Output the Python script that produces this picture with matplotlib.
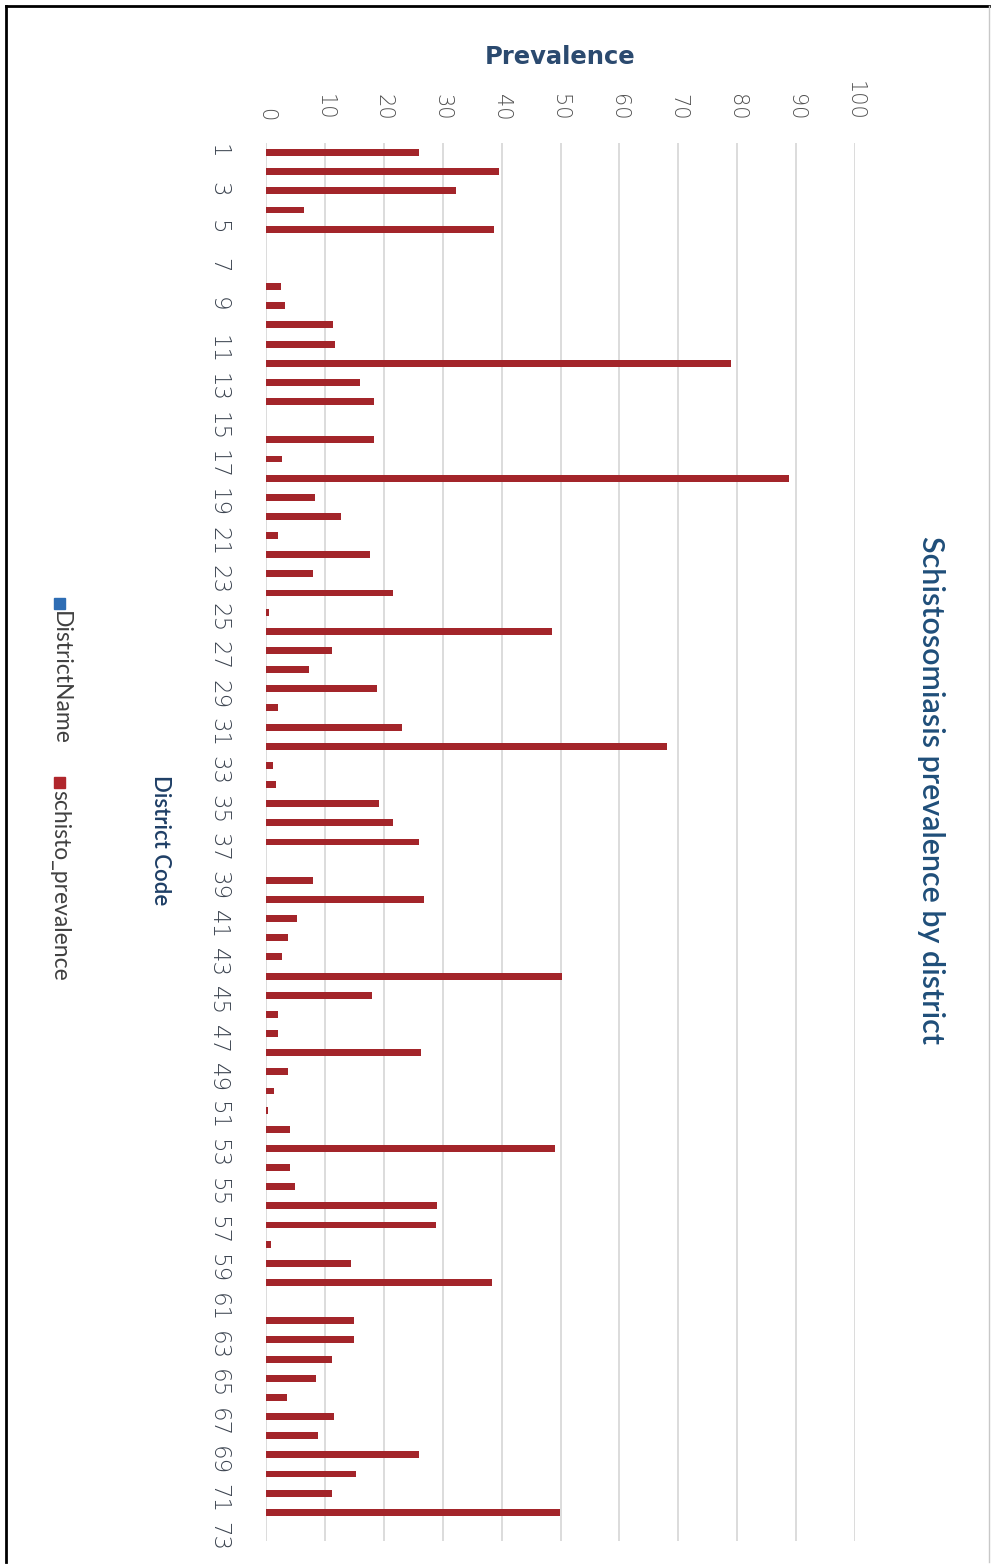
import matplotlib.pyplot as plt
import matplotlib.patches as mpatches
from matplotlib.lines import Line2D
import numpy as np

# district codes 1..73 and schisto prevalence (%) per district
district_codes = list(range(1, 74))
schisto_prevalence = [
    26.0, 39.5, 32.3, 6.5, 38.7, 0, 0, 2.5, 3.3, 11.3,
    11.7, 78.9, 16.0, 18.4, 0, 18.4, 2.8, 88.8, 8.4, 12.8,
    2.1, 17.6, 8.0, 21.5, 0.5, 48.6, 11.2, 7.3, 18.8, 2.1,
    23.1, 68.0, 1.2, 1.7, 19.2, 21.6, 26.0, 0, 8.0, 26.8,
    5.3, 3.7, 2.8, 50.2, 18.0, 2.1, 2.1, 26.3, 3.7, 1.3,
    0.4, 4.1, 49.0, 4.1, 4.9, 29.1, 28.8, 0.9, 14.4, 38.3,
    0, 14.9, 14.9, 11.2, 8.5, 3.6, 11.6, 8.9, 26.0, 15.2,
    11.2, 49.9, 0,
]
prevalence_ticks = list(range(0, 101, 10))
code_ticks = list(range(1, 74, 2))

title = "Schistosomiasis prevalence by district"
legend_names = ["DistrictName", "schisto_prevalence"]
legend_colors = ["#2E6DB4", "#B0262C"]

W, H = 991, 1564
plt.rcParams['font.family'] = ['Lato', 'DejaVu Sans']

fig = plt.figure(figsize=(W / 100, H / 100), dpi=100)
fig.patch.set_facecolor("white")

def fx(px):
    return px / W

def fy(py):
    return 1 - py / H

# chart is laid out sideways: bars run left to right, codes go down the page
ax = fig.add_axes([fx(266), fy(1541), fx(855) - fx(266), fy(143) - fy(1541)])
ax.barh(district_codes, schisto_prevalence, height=0.36, color="#A3252A",
        linewidth=0, zorder=3)
ax.set_xlim(0, 100)
ax.set_ylim(73.5, 0.5)
ax.xaxis.tick_top()
ax.set_xticks(prevalence_ticks)
ax.set_yticks(code_ticks)
ax.tick_params(axis="x", length=0, pad=16, labelsize=15, labelrotation=-90,
               labelcolor="#505050")
ax.tick_params(axis="y", length=0, pad=26, labelsize=16.5, labelrotation=-90,
               labelcolor="#3C4450")
for lab in ax.get_xticklabels() + ax.get_yticklabels():
    lab.set_family(['DejaVu Sans'])
    lab.set_fontweight('light')
ax.grid(axis="x", color="#D6D6D6", linewidth=1.2, zorder=0)
for sp in ax.spines.values():
    sp.set_visible(False)

fig.text(fx(560), fy(57), "Prevalence", ha="center", va="center",
         fontsize=17.5, fontweight="bold", color="#2B4A6F",
         family=['DejaVu Sans'])
fig.text(fx(931), fy(790), title, rotation=-90, ha="center", va="center",
         fontsize=22, fontweight="semibold", color="#1F4E79")
fig.text(fx(161), fy(840), "District Code", rotation=-90, ha="center",
         va="center", fontsize=16, fontweight="semibold", color="#1F3F66")

# legend, drawn by hand so it can read downwards like the rest
leg_starts = [598, 777]
for name, col, y0 in zip(legend_names, legend_colors, leg_starts):
    fig.patches.append(mpatches.Rectangle((fx(54), fy(y0 + 11)), fx(11), 11 / H,
                                          transform=fig.transFigure,
                                          color=col))
    fig.text(fx(60), fy(y0 + 13), name, rotation=-90, ha="center", va="top",
             fontsize=16.5, color="#404040")

# outer frame
fig.lines.append(Line2D([fx(6), fx(6)], [fy(6), fy(1562)],
                        transform=fig.transFigure, color="black", lw=2))
fig.lines.append(Line2D([fx(6), fx(989)], [fy(6), fy(6)],
                        transform=fig.transFigure, color="black", lw=2))
fig.lines.append(Line2D([fx(989), fx(989)], [fy(6), fy(1562)],
                        transform=fig.transFigure, color="#C8C8C8", lw=1))

fig.savefig("out.png", dpi=100)
